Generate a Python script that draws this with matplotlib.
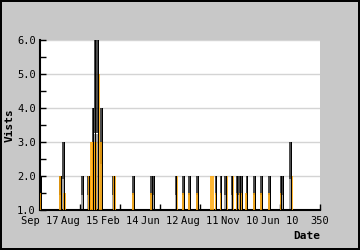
import matplotlib
matplotlib.use("Agg")
import matplotlib.pyplot as plt

# datos
black_x = [1.5, 25.5, 29.5, 53, 60.5, 66, 68.5, 72, 77, 92, 117, 139.5, 142,
           170, 179.5, 187, 197, 220, 226.5, 232, 240, 246.5, 249.5, 252,
           258.5, 268, 277, 287, 301, 304, 313]
black_h = [2.0, 2.0, 3.0, 2.0, 2.0, 4.0, 6.0, 6.0, 4.0, 2.0, 2.0, 2.0, 2.0,
           2.0, 2.0, 2.0, 2.0, 2.0, 2.0, 2.0, 2.0, 2.0, 2.0, 2.0,
           2.0, 2.0, 2.0, 2.0, 2.0, 2.0, 3.0]
orange_x = [1, 25, 30.5, 62, 64.5, 67, 69.5, 73.5, 76, 93, 116.5, 139, 171.5,
            179, 186.5, 196.5, 213.5, 216, 220, 226, 233.5, 241.5, 246, 250.5,
            258, 268, 277, 287, 301.5, 315]
orange_h = [1.5, 2.0, 1.5, 2.0, 3.0, 3.0, 3.0, 5.0, 3.0, 2.0, 1.5, 1.5, 2.0,
            1.5, 1.5, 1.5, 2.0, 2.0, 1.5, 1.5, 2.0, 2.0, 1.5, 1.5,
            1.5, 1.5, 1.5, 1.5, 1.5, 2.0]
tick_pos = [0, 50, 100, 150, 200, 250, 300, 350]
tick_labels = ["Sep 17", "Aug 15", "Feb 14", "Jun 12", "Aug 11", "Nov 10", "Jun 10", "350"]

font = "DejaVu Sans Mono"
fig = plt.figure(figsize=(3.6, 2.5), dpi=100)
fig.patch.set_facecolor("#c8c8c8")
fig.patch.set_edgecolor("black")
fig.patch.set_linewidth(1.5)
ax = fig.add_axes([40/360, 40/250, 280/360, 170/250])
ax.set_facecolor("white")

# barras negras con degradado: abajo claro, arriba casi negro
mid = [1 + (h - 1) * 0.45 for h in black_h]
ax.bar(black_x, [m - 1 for m in mid], bottom=1, width=3,
       color=(0, 0, 0, 0.35), linewidth=0, zorder=2)
ax.bar(black_x, [h - m for h, m in zip(black_h, mid)], bottom=mid, width=3,
       color=(0, 0, 0, 0.7), linewidth=0, zorder=2)
ax.bar(orange_x, [h - 1 for h in orange_h], bottom=1, width=2.8,
       color="#ffa500", alpha=0.8, linewidth=0, zorder=3)
ax.bar([x + 0.8 for x in black_x], [h - 1 for h in black_h], bottom=1, width=1.3,
       color="black", linewidth=0, zorder=4)

ax.set_xlim(0, 350)
ax.set_ylim(1.0, 6.0)
ax.set_yticks([1, 2, 3, 4, 5, 6])
ax.set_yticks([1.5, 2.5, 3.5, 4.5, 5.5], minor=True)
ax.set_yticklabels(["1.0", "2.0", "3.0", "4.0", "5.0", "6.0"], family=font, fontsize=7.5)
ax.set_xticks(tick_pos)
ax.set_xticklabels(tick_labels, family=font, fontsize=7.5)
ax.tick_params(axis="both", which="both", direction="in", length=4, width=1, color="black")
ax.tick_params(axis="y", pad=3)
ax.tick_params(axis="x", pad=4)
ax.grid(axis="y", color="#d4d4d4", linewidth=1, zorder=0)
ax.set_axisbelow(True)
for s in ["top", "right"]:
    ax.spines[s].set_visible(False)
ax.spines["left"].set_linewidth(1.5)
ax.spines["bottom"].set_linewidth(1.5)

ax.set_ylabel("Vists", family=font, fontsize=8, fontweight="bold", labelpad=2)
fig.text(320/360, 14/250, "Date", family=font, fontsize=8, fontweight="bold",
         ha="right", va="center")

plt.savefig("out.png", facecolor=fig.get_facecolor(), edgecolor=fig.get_edgecolor())
plt.close()
